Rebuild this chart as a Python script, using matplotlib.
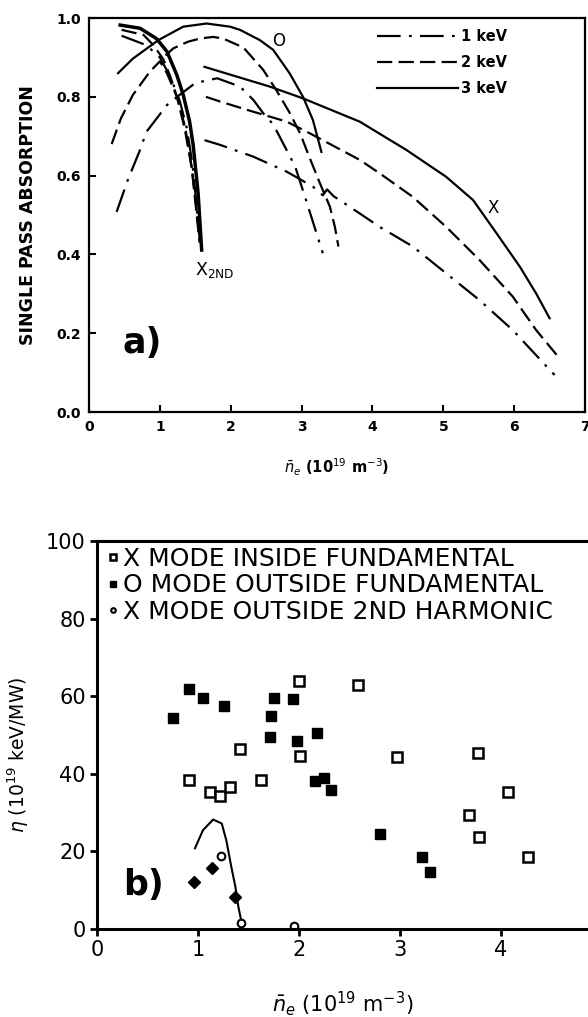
import matplotlib
matplotlib.use("Agg")
import matplotlib.pyplot as plt

plt.rcParams['lines.scale_dashes'] = False

# ---- panel a: single pass absorption vs density ----
# X mode, 2nd harmonic (bundle at top left)
x2_3kev_x = [0.44, 0.72, 0.95, 1.10, 1.24, 1.33, 1.42, 1.47, 1.54, 1.59]
x2_3kev_y = [0.982, 0.974, 0.948, 0.915, 0.855, 0.805, 0.737, 0.678, 0.555, 0.411]
x2_2kev_x = [0.46, 0.77, 0.91, 1.05, 1.15, 1.26, 1.36, 1.45, 1.52, 1.56]
x2_2kev_y = [0.970, 0.957, 0.931, 0.895, 0.850, 0.790, 0.720, 0.620, 0.510, 0.440]
x2_1kev_x = [0.46, 0.81, 1.00, 1.15, 1.28, 1.38, 1.46, 1.52, 1.56]
x2_1kev_y = [0.955, 0.931, 0.900, 0.850, 0.790, 0.720, 0.630, 0.520, 0.440]
# rising 2 keV branch that peaks near 1.0 and falls with the bundle
x2_2kev_low_x = [0.32, 0.45, 0.62, 0.86, 1.00, 1.10, 1.24, 1.35, 1.45, 1.52, 1.56]
x2_2kev_low_y = [0.680, 0.745, 0.805, 0.864, 0.890, 0.860, 0.800, 0.720, 0.620, 0.500, 0.430]

# O mode (arches)
o_3kev_x = [0.41, 0.62, 0.98, 1.33, 1.66, 1.99, 2.13, 2.41, 2.60, 2.83, 3.02, 3.16, 3.28]
o_3kev_y = [0.860, 0.897, 0.944, 0.978, 0.986, 0.978, 0.970, 0.944, 0.919, 0.860, 0.800, 0.741, 0.660]
o_2kev_x = [1.08, 1.19, 1.40, 1.57, 1.75, 1.89, 2.18, 2.46, 2.65, 2.83, 2.98, 3.09, 3.26, 3.40, 3.47, 3.52]
o_2kev_y = [0.905, 0.923, 0.940, 0.948, 0.952, 0.948, 0.925, 0.868, 0.815, 0.760, 0.707, 0.656, 0.580, 0.521, 0.470, 0.420]
o_1kev_x = [0.39, 0.55, 0.72, 0.81, 1.10, 1.28, 1.50, 1.81, 2.13, 2.32, 2.46, 2.60, 2.69, 2.91, 3.07, 3.21, 3.30]
o_1kev_y = [0.508, 0.590, 0.665, 0.711, 0.779, 0.805, 0.835, 0.847, 0.826, 0.792, 0.758, 0.730, 0.699, 0.623, 0.534, 0.454, 0.403]

# X mode fundamental (long curves)
x_3kev_x = [1.63, 1.85, 2.55, 3.02, 3.82, 4.48, 5.04, 5.42, 5.75, 6.08, 6.31, 6.50]
x_3kev_y = [0.876, 0.864, 0.826, 0.796, 0.737, 0.665, 0.597, 0.538, 0.454, 0.369, 0.301, 0.238]
x_2kev_x = [1.65, 1.85, 2.32, 2.79, 3.12, 3.82, 4.10, 4.57, 5.04, 5.51, 5.98, 6.31, 6.60]
x_2kev_y = [0.800, 0.788, 0.762, 0.737, 0.707, 0.640, 0.606, 0.546, 0.470, 0.386, 0.293, 0.208, 0.145]
x_1kev_x = [1.63, 1.85, 2.32, 2.79, 3.16, 3.30, 3.36, 3.45, 3.82, 4.10, 4.57, 5.04, 5.51, 5.98, 6.57]
x_1kev_y = [0.690, 0.678, 0.648, 0.610, 0.572, 0.550, 0.565, 0.548, 0.504, 0.470, 0.420, 0.352, 0.284, 0.208, 0.094]

# ---- panel b: heating efficiency ----
x_in_n = [2.00, 2.58, 1.42, 2.01, 2.97, 3.77, 0.91, 1.12, 1.22, 1.32, 1.62, 3.68, 3.78, 4.07, 4.27]
x_in_eta = [64.0, 62.9, 46.3, 44.6, 44.4, 45.3, 38.4, 35.4, 34.3, 36.7, 38.4, 29.5, 23.8, 35.4, 18.6]
o_out_n = [0.75, 0.91, 1.05, 1.26, 1.75, 1.72, 1.71, 1.94, 1.98, 2.18, 2.16, 2.25, 2.32, 2.80, 3.22, 3.30]
o_out_eta = [54.5, 61.8, 59.6, 57.5, 59.5, 55.0, 49.5, 59.2, 48.4, 50.6, 38.2, 38.8, 35.8, 24.6, 18.6, 14.8]
x2_out_n = [1.23, 1.43, 1.95]
x2_out_eta = [18.9, 1.6, 0.8]
diam_n = [0.96, 1.14, 1.37]
diam_eta = [12.2, 15.6, 8.3]
fit_n = [0.97, 1.05, 1.15, 1.235, 1.28, 1.33, 1.37, 1.40, 1.43]
fit_eta = [20.8, 25.5, 28.2, 27.2, 22.9, 16.0, 10.9, 5.7, 1.9]

DASHDOT = (0, (17, 6, 2, 6))
DASHED = (0, (11, 4.5))

fig = plt.figure(figsize=(5.88, 10.17), dpi=100)

# ================= panel a =================
ax = fig.add_axes([89 / 588, 1 - 412 / 1017, 496 / 588, 394 / 1017])
lw = 1.6
ax.plot(x2_1kev_x, x2_1kev_y, color='k', lw=lw, ls=DASHDOT)
ax.plot(x2_2kev_x, x2_2kev_y, color='k', lw=lw, ls=DASHED)
ax.plot(x2_2kev_low_x, x2_2kev_low_y, color='k', lw=lw, ls=DASHED)
ax.plot(x2_3kev_x, x2_3kev_y, color='k', lw=2.5, ls='-')

ax.plot(o_1kev_x, o_1kev_y, color='k', lw=lw, ls=DASHDOT)
ax.plot(o_2kev_x, o_2kev_y, color='k', lw=lw, ls=DASHED)
ax.plot(o_3kev_x, o_3kev_y, color='k', lw=lw, ls='-')

l1, = ax.plot(x_1kev_x, x_1kev_y, color='k', lw=lw, ls=DASHDOT)
l2, = ax.plot(x_2kev_x, x_2kev_y, color='k', lw=lw, ls=DASHED)
l3, = ax.plot(x_3kev_x, x_3kev_y, color='k', lw=lw, ls='-')

ax.legend([l1, l2, l3], ['1 keV', '2 keV', '3 keV'], loc='upper left',
          bbox_to_anchor=(0.58, 0.972), frameon=False, handlelength=5.6,
          handletextpad=0.2, labelspacing=0.75, borderpad=0, borderaxespad=0,
          prop={'weight': 'bold', 'size': 10.5})

ax.text(2.67, 0.942, 'O', fontsize=12, ha='center', va='center')
ax.text(5.70, 0.518, 'X', fontsize=12, ha='center', va='center')
ax.text(1.50, 0.36, r'X$_{\mathregular{2ND}}$', fontsize=12.5, ha='left', va='center')
ax.text(0.47, 0.175, 'a)', fontsize=25, fontweight='bold', ha='left', va='center')

ax.set_xlim(0, 7)
ax.set_ylim(0, 1.0)
ax.set_xticks(range(8))
ax.set_yticks([0.0, 0.2, 0.4, 0.6, 0.8, 1.0])
ax.set_yticklabels(['0.0', '0.2', '0.4', '0.6', '0.8', '1.0'])
ax.tick_params(direction='in', length=5, width=1.5, labelsize=10, pad=6)
for t in ax.get_xticklabels() + ax.get_yticklabels():
    t.set_fontweight('bold')
for s in ax.spines.values():
    s.set_linewidth(1.6)
ax.set_xlabel(r'$\bar{n}_e$ (10$^{19}$ m$^{-3}$)', fontsize=10.5, fontweight='bold')
ax.xaxis.set_label_coords(0.5, -0.112)
ax.set_ylabel('SINGLE PASS ABSORPTION', fontsize=12.5, fontweight='bold')
ax.yaxis.set_label_coords(-0.105, 0.5)

# ================= panel b =================
bx = fig.add_axes([97 / 588, 1 - 929 / 1017, 491 / 588, 388 / 1017])
bx.plot(fit_n, fit_eta, color='k', lw=1.5)
bx.plot(x_in_n, x_in_eta, ls='none', marker='s', ms=7.5, mfc='white', mec='k', mew=1.8,
        label='X MODE INSIDE FUNDAMENTAL')
bx.plot(o_out_n, o_out_eta, ls='none', marker='s', ms=7.5, mfc='k', mec='k',
        label='O MODE OUTSIDE FUNDAMENTAL')
bx.plot(x2_out_n, x2_out_eta, ls='none', marker='o', ms=5.5, mfc='white', mec='k', mew=1.5,
        label='X MODE OUTSIDE 2ND HARMONIC')
bx.plot(diam_n, diam_eta, ls='none', marker='D', ms=6.5, mfc='k', mec='k')

bx.legend(loc='upper left', bbox_to_anchor=(0.022, 0.985), frameon=False,
          handlelength=0.45, handletextpad=0.15, labelspacing=0.1, borderpad=0,
          borderaxespad=0, markerscale=0.6, prop={'size': 18})

bx.text(0.26, 11.3, 'b)', fontsize=25, fontweight='bold', ha='left', va='center')

bx.set_xlim(0, 491 / 101)
bx.set_ylim(0, 100)
bx.set_xticks([0, 1, 2, 3, 4])
bx.set_yticks([0, 20, 40, 60, 80, 100])
bx.tick_params(direction='out', length=5, width=2, labelsize=15, pad=3)
bx.spines['right'].set_visible(False)
for s in ['left', 'bottom', 'top']:
    bx.spines[s].set_linewidth(2.2)
bx.set_xlabel(r'$\bar{n}_e$ (10$^{19}$ m$^{-3}$)', fontsize=15)
bx.xaxis.set_label_coords(0.5, -0.155)
bx.set_ylabel(r'$\eta$ (10$^{19}$ keV/MW)', fontsize=13.5)
bx.yaxis.set_label_coords(-0.135, 0.45)

fig.savefig('out.png', dpi=100)
